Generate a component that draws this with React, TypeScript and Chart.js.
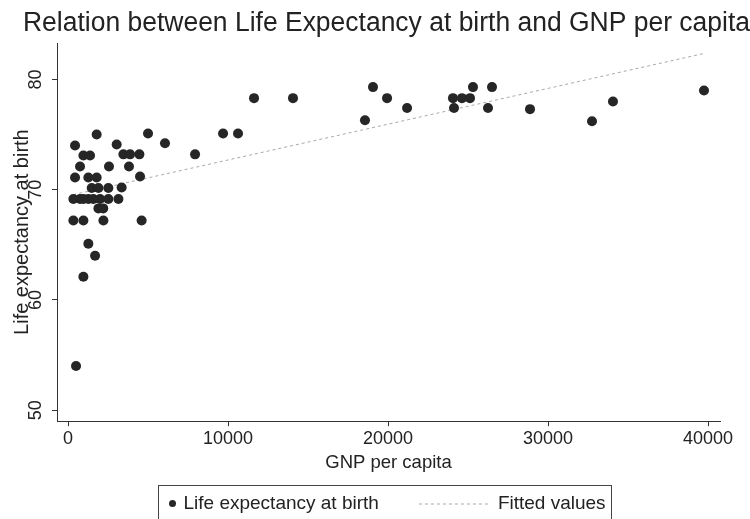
import React, { useEffect, useRef } from "react";
import { Chart, registerables } from "chart.js";

Chart.register(...registerables);

// ---- data ----
const gnpPerCapita = [
  500, 960, 1690, 1270, 333, 960, 2210, 4600, 1900, 2200,
  333, 750, 960, 1270, 1580, 2000, 2520, 3150,
  1480, 1900, 2520, 3350,
  437, 1270, 1790, 4500,
  750, 2560, 3810,
  960, 1375, 3460, 3875, 4460, 7940,
  437, 3040, 6060,
  1790, 5000, 9690, 10625,
  11625, 14060, 18560, 19060, 19940, 21190,
  24060, 24625, 25125, 25310, 24125, 26500, 26250,
  28875, 32750, 34060, 39750,
];
const lifeExpectancy = [
  54.0, 62.1, 64.0, 65.1, 67.2, 67.2, 67.2, 67.2, 68.3, 68.3,
  69.15, 69.15, 69.15, 69.15, 69.15, 69.15, 69.15, 69.15,
  70.15, 70.15, 70.15, 70.2,
  71.1, 71.1, 71.1, 71.2,
  72.1, 72.1, 72.1,
  73.1, 73.1, 73.2, 73.2, 73.2, 73.2,
  74.0, 74.1, 74.2,
  75.0, 75.1, 75.1, 75.1,
  78.3, 78.3, 76.3, 79.3, 78.3, 77.4,
  78.3, 78.3, 78.3, 79.3, 77.4, 79.3, 77.4,
  77.3, 76.2, 78.0, 79.0,
];
const fittedGnp = [333, 39750];
const fittedValues = [69.55, 82.35];

const xTickValues = [0, 10000, 20000, 30000, 40000];
const yTickValues = [50, 60, 70, 80];

const chartTitle = "Relation between Life Expectancy at birth and GNP per capita";
const xAxisTitle = "GNP per capita";
const yAxisTitle = "Life expectancy at birth";
const seriesLabels = ["Life expectancy at birth", "Fitted values"];

const FONT = '"Liberation Sans", Arial, Helvetica, sans-serif';
const INK = "#222222";

const titleShift = {
  id: "titleShift",
  beforeDraw(chart: any) {
    const t = chart.titleBlock;
    if (t) {
      t.left = 23;
      t.right = chart.width;
    }
  },
};

const boxLegend = {
  id: "boxLegend",
  afterDraw(chart: any) {
    const ctx = chart.ctx;
    const ca = chart.chartArea;
    const ds = chart.data.datasets;
    ctx.save();
    ctx.font = `19px ${FONT}`;
    const w1 = ctx.measureText(ds[0].label).width;
    const w2 = ctx.measureText(ds[1].label).width;
    const padL = 10, mark = 8, gap1 = 7, gap2 = 40, lineW = 70, gap3 = 9, padR = 6;
    const boxW = padL + mark + gap1 + w1 + gap2 + lineW + gap3 + w2 + padR;
    const cx = (ca.left + ca.right) / 2 - 4;
    const left = Math.round(cx - boxW / 2) + 0.5;
    const top = Math.round(ca.bottom + 64) + 0.5;
    const midY = top + 18;

    ctx.strokeStyle = "#444";
    ctx.lineWidth = 1;
    ctx.strokeRect(left, top, Math.round(boxW), 60);

    // marker
    let x = left + padL;
    ctx.fillStyle = ds[0].backgroundColor;
    ctx.beginPath();
    ctx.arc(x + mark / 2, midY, 3.5, 0, Math.PI * 2);
    ctx.fill();
    x += mark + gap1;

    ctx.fillStyle = INK;
    ctx.textBaseline = "middle";
    ctx.textAlign = "left";
    ctx.fillText(ds[0].label, x, midY);
    x += w1 + gap2;

    ctx.strokeStyle = ds[1].borderColor;
    ctx.lineWidth = ds[1].borderWidth;
    ctx.setLineDash(ds[1].borderDash || []);
    ctx.beginPath();
    ctx.moveTo(x, midY + 0.5);
    ctx.lineTo(x + lineW, midY + 0.5);
    ctx.stroke();
    ctx.setLineDash([]);
    x += lineW + gap3;

    ctx.fillStyle = INK;
    ctx.fillText(ds[1].label, x, midY);
    ctx.restore();
  },
};

export default function App() {
  const canvasRef = useRef<HTMLCanvasElement | null>(null);

  useEffect(() => {
    if (!canvasRef.current) return;
    Chart.defaults.font.family = FONT;
    Chart.defaults.color = INK;

    const chart = new Chart(canvasRef.current, {
      type: "scatter",
      data: {
        datasets: [
          {
            label: seriesLabels[0],
            data: gnpPerCapita.map((g, i) => ({ x: g, y: lifeExpectancy[i] })),
            backgroundColor: "#262626",
            borderColor: "#262626",
            pointRadius: 5,
            pointBorderWidth: 0,
            order: 1,
          },
          {
            label: seriesLabels[1],
            type: "line",
            data: fittedGnp.map((g, i) => ({ x: g, y: fittedValues[i] })),
            borderColor: "#a8a8a8",
            borderWidth: 1,
            borderDash: [3, 3],
            pointRadius: 0,
            fill: false,
            showLine: true,
            order: 2,
          } as any,
        ],
      },
      options: {
        animation: false,
        responsive: false,
        devicePixelRatio: 1,
        layout: { padding: { left: 0, right: 30, top: 0, bottom: 41 } },
        plugins: {
          legend: { display: false },
          tooltip: { enabled: false },
          title: {
            display: true,
            text: chartTitle,
            color: INK,
            font: { size: 27, weight: "normal", family: FONT },
            padding: { top: 7, bottom: 3.6 },
          },
        },
        scales: {
          x: {
            type: "linear",
            min: -690,
            max: 40750,
            afterBuildTicks: (s: any) => {
              s.ticks = xTickValues.map((v) => ({ value: v }));
            },
            ticks: {
              color: INK,
              font: { size: 18 },
              padding: 2,
              maxRotation: 0,
              callback: (v: any) => String(v),
            },
            grid: {
              display: true,
              drawOnChartArea: false,
              drawTicks: true,
              tickLength: 5,
              color: "#333",
            },
            border: { display: true, color: "#333", width: 1 },
            title: {
              display: true,
              text: xAxisTitle,
              color: INK,
              font: { size: 18.5 },
              padding: { top: 0, bottom: 4 },
            },
          },
          y: {
            type: "linear",
            min: 49,
            max: 83.3,
            afterBuildTicks: (s: any) => {
              s.ticks = yTickValues.map((v) => ({ value: v }));
            },
            afterFit: (s: any) => {
              s.width = 57;
            },
            ticks: {
              color: INK,
              font: { size: 18 },
              padding: 6,
              minRotation: 90,
              maxRotation: 90,
              crossAlign: "center",
              callback: (v: any) => String(v),
            },
            grid: {
              display: true,
              drawOnChartArea: false,
              drawTicks: true,
              tickLength: 5,
              color: "#333",
            },
            border: { display: true, color: "#333", width: 1 },
            title: {
              display: true,
              text: yAxisTitle,
              color: INK,
              font: { size: 20 },
              padding: { top: 10, bottom: 0 },
            },
          },
        },
      },
      plugins: [titleShift, boxLegend],
    } as any);

    return () => chart.destroy();
  }, []);

  return (
    <div style={{ position: "fixed", left: 0, top: 0, width: 750, height: 519, background: "#fff" }}>
      <canvas ref={canvasRef} width={750} height={519} style={{ width: 750, height: 519, display: "block" }} />
    </div>
  );
}
